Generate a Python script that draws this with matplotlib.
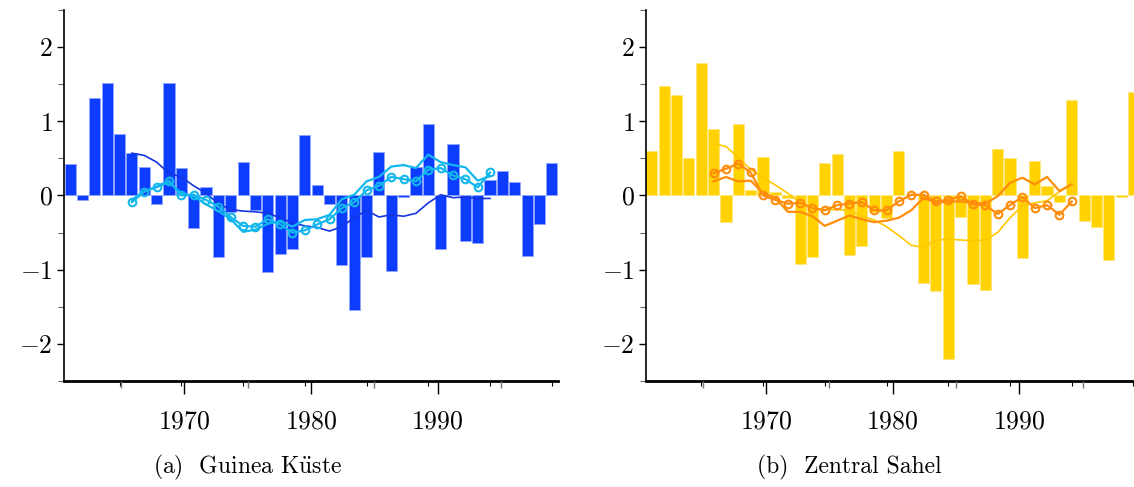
import numpy as np
import matplotlib
matplotlib.use('Agg')
import matplotlib.pyplot as plt
from matplotlib.ticker import MultipleLocator

plt.rcParams['font.family'] = 'serif'
plt.rcParams['font.serif'] = ['cmr10']
plt.rcParams['mathtext.fontset'] = 'cm'
plt.rcParams['axes.formatter.use_mathtext'] = True

# yearly anomalies (bars) and 1966-1995 running curves
years = np.arange(1961, 2001)
line_years = np.arange(1966, 1996)
major_years = [1970, 1980, 1990]
minor_years = [1965, 1975, 1985, 1995]

guinea_bars = [0.42, -0.06, 1.31, 1.51, 0.83, 0.57, 0.39, -0.11, 1.51, 0.37,
               -0.44, 0.12, -0.83, -0.22, 0.45, -0.19, -1.03, -0.79, -0.72, 0.81,
               0.14, -0.12, -0.94, -1.55, -0.83, 0.58, -1.02, -0.02, 0.38, 0.97,
               -0.72, 0.70, -0.61, -0.64, 0.21, 0.33, 0.18, -0.82, -0.39, 0.44]
guinea_smooth = [0.57, 0.54, 0.45, 0.30, 0.25, 0.13, 0.03, -0.11, -0.19, -0.21,
                 -0.22, -0.24, -0.30, -0.37, -0.41, -0.43, -0.48, -0.42, -0.30, -0.20,
                 -0.29, -0.26, -0.28, -0.24, -0.10, 0.01, -0.03, -0.02, -0.04, -0.04]
guinea_plain = [-0.06, 0.06, 0.11, 0.18, 0.03, -0.01, -0.12, -0.21, -0.32, -0.49,
                -0.46, -0.38, -0.35, -0.42, -0.33, -0.32, -0.26, -0.05, 0.01, 0.19,
                0.25, 0.39, 0.41, 0.37, 0.55, 0.45, 0.41, 0.38, 0.20, 0.26]
guinea_marked = [-0.09, 0.05, 0.12, 0.20, 0.00, 0.01, -0.06, -0.15, -0.29, -0.41,
                 -0.42, -0.32, -0.39, -0.50, -0.47, -0.39, -0.32, -0.17, -0.09, 0.07,
                 0.13, 0.25, 0.22, 0.19, 0.35, 0.37, 0.27, 0.22, 0.11, 0.31]

sahel_bars = [0.60, 1.47, 1.36, 0.51, 1.78, 0.90, -0.36, 0.96, 0.08, 0.52,
              0.05, -0.03, -0.92, -0.83, 0.44, 0.56, -0.80, -0.68, -0.22, -0.30,
              0.60, 0.0, -1.18, -1.29, -2.21, -0.29, -1.19, -1.28, 0.63, 0.50,
              -0.84, 0.46, 0.13, -0.09, 1.29, -0.34, -0.42, -0.87, -0.02, 1.40]
sahel_smooth = [0.70, 0.66, 0.51, 0.35, 0.24, 0.14, 0.03, -0.09, -0.17, -0.19,
                -0.19, -0.20, -0.28, -0.33, -0.42, -0.54, -0.67, -0.70, -0.60, -0.59,
                -0.60, -0.61, -0.60, -0.50, -0.30, -0.14, -0.10, -0.07, 0.05, 0.15]
sahel_plain = [0.19, 0.25, 0.19, 0.20, 0.03, -0.03, -0.22, -0.22, -0.28, -0.41,
               -0.34, -0.27, -0.32, -0.36, -0.34, -0.30, -0.20, -0.03, -0.10, -0.08,
               -0.08, -0.10, -0.11, -0.01, 0.17, 0.24, 0.15, 0.25, 0.06, 0.15]
sahel_marked = [0.30, 0.36, 0.43, 0.31, 0.00, -0.06, -0.11, -0.10, -0.17, -0.20,
                -0.13, -0.11, -0.09, -0.20, -0.20, -0.08, 0.01, 0.01, -0.08, -0.06,
                -0.01, -0.12, -0.13, -0.25, -0.13, -0.02, -0.17, -0.13, -0.26, -0.08]

fig = plt.figure(figsize=(11.34, 4.87), dpi=100)


def panel(left, bars, smooth, plain, marked, bar_c, edge_c, smooth_c, accent, caption, cap_x):
    ax = fig.add_axes([left, 0.2177, 0.4356, 0.7618])
    ax.bar(years, bars, width=0.9, color=bar_c, edgecolor=edge_c, linewidth=0.6, zorder=1)
    ax.plot(line_years, smooth, color=smooth_c, lw=1.2, zorder=2)
    ax.plot(line_years, plain, color=accent, lw=1.6, zorder=3)
    ax.plot(line_years, marked, color=accent, lw=1.6, marker='o', ms=5.5,
            mfc='none', mew=1.5, zorder=4)
    ax.set_xlim(1960.5, 2000.5)
    ax.set_ylim(-2.5, 2.5)
    ax.spines['top'].set_visible(False)
    ax.spines['right'].set_visible(False)
    ax.spines['left'].set_linewidth(1.2)
    ax.spines['bottom'].set_linewidth(2.0)
    ax.tick_params(axis='x', which='both', bottom=False, labelbottom=False)
    ax.yaxis.set_major_locator(MultipleLocator(1))
    ax.yaxis.set_minor_locator(MultipleLocator(0.5))
    ax.tick_params(axis='y', which='major', direction='out', length=5, width=1,
                   labelsize=18.5, pad=3)
    ax.tick_params(axis='y', which='minor', direction='out', length=4, width=0.8,
                   color='#666666')

    # year ticks
    axt = ax.twiny()
    axt.set_xlim(1960.5, 1999.5)
    axt.xaxis.set_ticks_position('bottom')
    axt.set_xticks(major_years)
    axt.set_xticks(minor_years, minor=True)
    for s in axt.spines.values():
        s.set_visible(False)
    axt.tick_params(axis='x', which='major', direction='out', length=9, width=1,
                    labelsize=18.5, pad=12)
    axt.tick_params(axis='x', which='minor', direction='out', length=5, width=1,
                    color='#777777')

    fig.text(cap_x, 0.041, caption, ha='center', va='center', fontsize=17)
    return ax


panel(64 / 1134, guinea_bars, guinea_smooth, guinea_plain, guinea_marked,
      '#0c3cff', '#8fa6ff', '#1535e0', '#14b6ee',
      r'(a)  Guinea K$\ddot{\mathrm{u}}$ste', 247 / 1134)
panel(645.7 / 1134, sahel_bars, sahel_smooth, sahel_plain, sahel_marked,
      '#ffd200', '#ffe680', '#ffc800', '#ff8c0a',
      '(b)  Zentral Sahel', 849 / 1134)

fig.savefig('out.png', dpi=100)
